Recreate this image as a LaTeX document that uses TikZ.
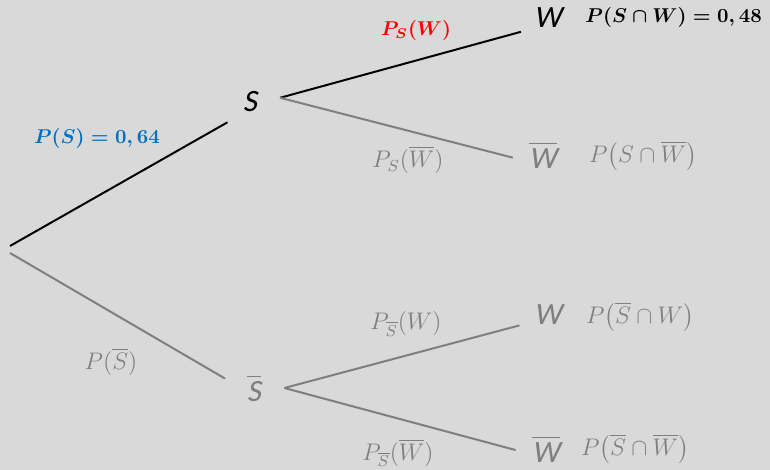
\documentclass[tikz,border=0pt]{standalone}
\usepackage{amsmath,amssymb}
\usepackage{fontspec}
\newfontfamily\eventfont{Carlito}[FakeSlant=0.18]
\usepackage{tikz}
\usetikzlibrary{positioning}
\definecolor{TreeBack}{HTML}{D9D9D9}
\definecolor{TreeGrey}{HTML}{7F7F7F}
\definecolor{TreeRed}{HTML}{FF0000}
\definecolor{TreeBlue}{HTML}{0070C0}

\begin{document}
\begin{tikzpicture}[x=0.5pt,y=-0.5pt,
  event/.style={circle,inner sep=0pt,minimum size=30pt,
    font=\fontsize{15.5}{18}\selectfont\eventfont},
  prob/.style={inner sep=0pt,font=\fontsize{11.7}{14}\selectfont},
  boldprob/.style={inner sep=0pt,font=\fontsize{10.3}{12}\selectfont},
  branch/.style={line width=1pt}]
  % Sheet.
  \fill[TreeBack] (0,0) rectangle (770,470);
  \useasboundingbox (0,0) rectangle (770,470);

  % Events.
  \coordinate (rootA) at (10,246);
  \coordinate (rootB) at (10,253);
  \node[event] (S) at (250,102) {S};
  \node[event,text=TreeGrey] (Sbar) at (254,388) {$\overline{\text{S}}$};
  \node[event] (W1) at (548,18) {W};
  \node[event,text=TreeGrey] (Wb1) at (543,155) {$\overline{\text{W}}$};
  \node[event,text=TreeGrey] (W2) at (548,315) {W};
  \node[event,text=TreeGrey] (Wb2) at (546,449) {$\overline{\text{W}}$};

  % Branches.
  \draw[branch] (rootA) -- (S.222);
  \draw[branch,TreeGrey] (rootB) -- (Sbar.162);
  \draw[branch] (S.8) -- (W1.207);
  \draw[branch,TreeGrey] (S.8) -- (Wb1.185);
  \draw[branch,TreeGrey] (Sbar.east) -- (W2.200);
  \draw[branch,TreeGrey] (Sbar.east) -- (Wb2.182);

  % Branch probabilities.
  \node[boldprob,text=TreeBlue] (pS) at (97,139) {$\boldsymbol{P(S)=0,64}$};
  \node[prob,text=TreeGrey] (pSb) at (111,362) {$P(\overline{S})$};
  \node[boldprob,text=TreeRed] (pSW) at (416,31) {$\boldsymbol{P_S(W)}$};
  \node[prob,text=TreeGrey] (pSWb) at (408,160) {$P_S(\overline{W})$};
  \node[prob,text=TreeGrey] (pSbW) at (406,324) {$P_{\overline{S}}(W)$};
  \node[prob,text=TreeGrey] (pSbWb) at (398,453) {$P_{\overline{S}}(\overline{W})$};

  % Path probabilities.
  \node[boldprob,anchor=west] (jSW) at (585,18) {$\boldsymbol{P(S\cap W)=0,48}$};
  \node[prob,text=TreeGrey] (jSWb) at (643,156) {$P\bigl(S\cap\overline{W}\bigr)$};
  \node[prob,text=TreeGrey] (jSbW) at (640,317) {$P\bigl(\overline{S}\cap W\bigr)$};
  \node[prob,text=TreeGrey] (jSbWb) at (635,449) {$P\bigl(\overline{S}\cap\overline{W}\bigr)$};
\end{tikzpicture}
\end{document}
